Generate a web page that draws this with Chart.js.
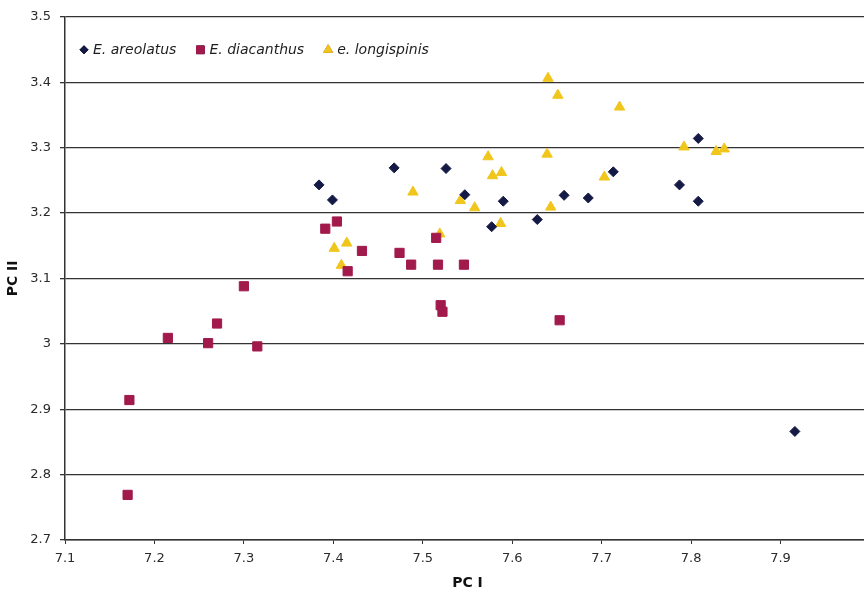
<!DOCTYPE html>
<html>
<head>
<meta charset="utf-8">
<script src="https://cdn.jsdelivr.net/npm/chart.js@4.4.1/dist/chart.umd.min.js"></script>
<style>
  html, body { margin: 0; padding: 0; background: #fff; overflow: hidden; }
  #wrap { width: 880px; height: 599px; }
</style>
</head>
<body>
<div id="wrap"><canvas id="pca_chart"></canvas></div>
<script>
// PC I / PC II scores per species
const areolatusX = [7.384, 7.399, 7.468, 7.526, 7.547, 7.590, 7.658, 7.685, 7.713, 7.787, 7.808, 7.808, 7.628, 7.577, 7.916];
const areolatusY = [3.243, 3.220, 3.269, 3.268, 3.228, 3.218, 3.227, 3.223, 3.263, 3.243, 3.314, 3.218, 3.190, 3.179, 2.866];

const diacanthusX = [7.391, 7.404, 7.432, 7.416, 7.300, 7.270, 7.215, 7.260, 7.315, 7.172, 7.170, 7.474, 7.487, 7.515, 7.517, 7.546, 7.520, 7.522, 7.653];
const diacanthusY = [3.176, 3.187, 3.142, 3.111, 3.088, 3.031, 3.009, 3.001, 2.996, 2.914, 2.769, 3.139, 3.121, 3.162, 3.121, 3.121, 3.059, 3.049, 3.036];

const longispinisX = [7.640, 7.651, 7.720, 7.792, 7.828, 7.837, 7.573, 7.639, 7.489, 7.578, 7.588, 7.703, 7.542, 7.558, 7.643, 7.587, 7.519, 7.401, 7.415, 7.409];
const longispinisY = [3.406, 3.380, 3.362, 3.301, 3.294, 3.298, 3.286, 3.290, 3.232, 3.257, 3.262, 3.255, 3.219, 3.208, 3.209, 3.184, 3.168, 3.146, 3.154, 3.120];

const speciesNames = ['E. areolatus', 'E. diacanthus', 'e. longispinis'];

const xMin = 7.1, xMax = 8.0;
const yMin = 2.7, yMax = 3.5;

const FONT = '"DejaVu Sans", sans-serif';
const LINE = '#333333';

function toPoints(xs, ys) {
  return xs.map(function (x, i) { return { x: x, y: ys[i] }; });
}

// Excel style tick text: 3 instead of 3.0
function tickText(value) {
  return String(Number(value.toFixed(1)));
}

// legend drawn inside the plot, top left, like the original
const insideLegend = {
  id: 'insideLegend',
  afterDraw: function (chart) {
    const ctx = chart.ctx;
    const area = chart.chartArea;
    let x = area.left + 19;
    const y = area.top + 33;
    ctx.save();
    ctx.font = 'italic 14px ' + FONT;
    ctx.textBaseline = 'middle';
    chart.data.datasets.forEach(function (ds) {
      Chart.helpers.drawPoint(ctx, {
        pointStyle: ds.pointStyle,
        radius: ds.legendRadius,
        rotation: 0,
        borderWidth: 1
      }, x, y);
      ctx.fillStyle = ds.backgroundColor;
      ctx.strokeStyle = ds.borderColor;
      ctx.fill();
      ctx.stroke();
      ctx.fillStyle = '#1e1e1e';
      ctx.fillText(ds.label, x + 9, y + 1);
      x += 9 + ctx.measureText(ds.label).width + 24;
    });
    ctx.restore();
  }
};

function pcaChart() {
  const ctx = document.getElementById('pca_chart');

  new Chart(ctx, {
    type: 'scatter',
    data: {
      datasets: [
        {
          label: speciesNames[0],
          data: toPoints(areolatusX, areolatusY),
          pointStyle: 'rectRot',
          pointRadius: 5,
          legendRadius: 4,
          backgroundColor: '#151a45',
          borderColor: '#151a45',
          borderWidth: 1
        },
        {
          label: speciesNames[1],
          data: toPoints(diacanthusX, diacanthusY),
          pointStyle: 'rect',
          pointRadius: 6.5,
          legendRadius: 5.5,
          backgroundColor: '#a11a4b',
          borderColor: '#a11a4b',
          borderWidth: 1
        },
        {
          label: speciesNames[2],
          data: toPoints(longispinisX, longispinisY),
          pointStyle: 'triangle',
          pointRadius: 6,
          legendRadius: 5,
          backgroundColor: '#f1c61c',
          borderColor: '#f1c61c',
          borderWidth: 1
        }
      ]
    },
    options: {
      responsive: true,
      maintainAspectRatio: false,
      animation: false,
      layout: { padding: { top: 15, right: 10, left: 0, bottom: 0 } },
      scales: {
        x: {
          type: 'linear',
          min: xMin,
          max: xMax,
          ticks: {
            stepSize: 0.1,
            padding: 7,
            color: '#2b2b2b',
            font: { family: FONT, size: 13 },
            callback: tickText
          },
          grid: {
            display: true,
            drawOnChartArea: false,
            drawTicks: true,
            tickLength: 4,
            color: LINE
          },
          border: { display: true, color: LINE, width: 1.5 },
          title: {
            display: true,
            text: 'PC I',
            color: '#111',
            padding: { top: 0, bottom: 7 },
            font: { family: FONT, size: 14, weight: 'bold' }
          },
          afterFit: function (scale) {
            scale.height = 59;
            scale.paddingLeft = 0;
            scale.paddingRight = 0;
          }
        },
        y: {
          type: 'linear',
          min: yMin,
          max: yMax,
          ticks: {
            stepSize: 0.1,
            padding: 9,
            color: '#2b2b2b',
            font: { family: FONT, size: 13 },
            callback: tickText
          },
          grid: {
            color: LINE,
            lineWidth: 1.3,
            drawTicks: true,
            tickLength: 5
          },
          border: { display: true, color: LINE, width: 1.5 },
          title: {
            display: true,
            text: 'PC II',
            color: '#111',
            padding: { top: 5, bottom: 0 },
            font: { family: FONT, size: 14, weight: 'bold' }
          },
          afterFit: function (scale) {
            scale.width = 65;
          }
        }
      },
      plugins: {
        legend: { display: false },
        tooltip: { enabled: false }
      }
    },
    plugins: [insideLegend]
  });
}

pcaChart();
</script>
</body>
</html>
